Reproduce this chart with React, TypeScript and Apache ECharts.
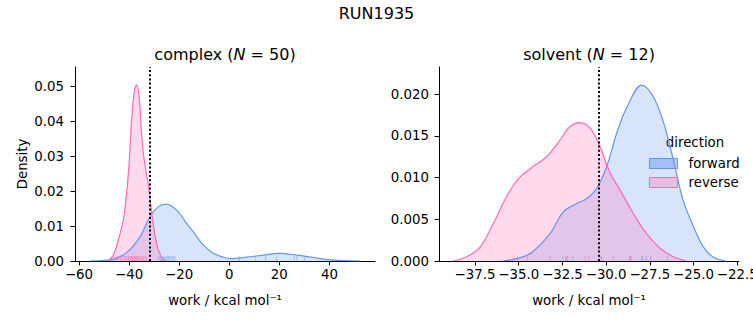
import { useEffect, useRef } from "react";
import * as echarts from "echarts";

const suptitle = "RUN1935";
const panelNames = ["complex", "solvent"];
const panelN = [50, 12];
const directions = ["forward", "reverse"];
const xAxisTitle = "work / kcal mol⁻¹";
const yAxisTitle = "Density";
const legendTitle = "direction";

// complex panel KDE curves
const complexForwardX = [-55.6, -47.6, -41.0, -35.6, -31.7, -28.3, -25.3, -21.0, -17.0, -14.4, -10.4, -6.4, -2.4, 0.3, 6.9, 13.6, 20.2, 26.9, 33.5, 40.2, 46.0, 52.2];
const complexForwardY = [0.0, 0.0003, 0.0024, 0.007, 0.0127, 0.0156, 0.0163, 0.0146, 0.0108, 0.0084, 0.0046, 0.0022, 0.0011, 0.0007, 0.0011, 0.0017, 0.0022, 0.0017, 0.001, 0.0003, 0.0001, 0.0];
const complexReverseX = [-48.3, -46.3, -44.3, -42.3, -41.0, -39.9, -39.0, -38.0, -37.0, -36.0, -35.2, -34.3, -33.3, -32.2, -31.1, -29.8, -28.3, -26.3, -25.0];
const complexReverseY = [0.0, 0.0017, 0.006, 0.0118, 0.0194, 0.029, 0.0404, 0.0481, 0.0505, 0.0471, 0.0385, 0.0309, 0.0261, 0.0213, 0.0146, 0.0079, 0.0032, 0.0003, 0.0];

// solvent panel KDE curves
const solventForwardX = [-35.9, -34.9, -34.2, -33.2, -32.45, -31.68, -31.1, -30.54, -29.97, -29.4, -28.8, -27.96, -27.3, -26.7, -26.15, -25.6, -25.0, -24.44, -23.9, -23.2];
const solventForwardY = [0.0, 0.0004, 0.0011, 0.0033, 0.0059, 0.0069, 0.0075, 0.0087, 0.0113, 0.0153, 0.0185, 0.0211, 0.0197, 0.0165, 0.0121, 0.0073, 0.0041, 0.0017, 0.0005, 0.0];
const solventReverseX = [-38.74, -37.98, -37.2, -36.45, -35.7, -35.0, -34.2, -33.4, -32.64, -32.07, -31.5, -30.9, -30.35, -29.8, -29.2, -28.44, -27.7, -26.9, -26.15, -25.4];
const solventReverseY = [0.0, 0.0005, 0.0017, 0.0045, 0.0077, 0.0099, 0.0113, 0.0125, 0.0145, 0.0161, 0.0166, 0.0159, 0.0137, 0.0107, 0.0085, 0.0057, 0.0033, 0.0015, 0.0005, 0.0];

// rug samples
const complexForwardRug = [-28.3, -27.6, -27.0, -26.4, -25.9, -25.3, -24.8, -24.3, -23.7, -23.0, -22.4, -21.7, 4.0, 10.5, 14.5, 19.0, 26.0, 27.0, 30.0];
const complexReverseRug = [-46.2, -45.1, -44.3, -43.5, -42.8, -42.0, -41.4, -40.9, -40.3, -39.8, -39.3, -38.9, -38.5, -38.1, -37.7, -37.4, -37.0, -36.7, -36.3, -35.9, -35.4, -34.8, -34.2, -33.6, -32.9];
const solventForwardRug = [-32.48, -32.25, -31.9, -30.25, -29.6, -28.67, -28.58, -27.96, -27.9, -27.7, -27.45, -26.5];
const solventReverseRug = [-35.06, -34.5, -33.2, -32.3, -32.2, -31.2, -31.0, -30.35, -28.6];

// vertical dotted reference lines
const referenceLines = [-31.66, -30.45];

// axes
const complexXTicks = [-60, -40, -20, 0, 20, 40];
const complexYTicks = [0, 0.01, 0.02, 0.03, 0.04, 0.05];
const solventXTicks = [-37.5, -35, -32.5, -30, -27.5, -25, -22.5];
const solventYTicks = [0, 0.005, 0.01, 0.015, 0.02];
const xRanges = [[-61.6, 58.2], [-39.56, -22.4]];
const yRanges = [[0, 0.05563], [0, 0.02327]];

const FONT = "DejaVu Sans";
const BLUE = "#6495ED";
const PINK = "#FF69B4";

const fmt = (d: number) => (v: number) => v.toFixed(d).replace("-", "\u2212");

export default function App() {
  const ref = useRef<HTMLDivElement>(null);
  useEffect(() => {
    if (!ref.current) return;
    const chart = echarts.init(ref.current, null, { renderer: "svg" });
    const grids = [
      { left: 75, top: 67, width: 300, height: 194, containLabel: false, outerBoundsMode: "none" },
      { left: 439, top: 67, width: 300, height: 194, containLabel: false, outerBoundsMode: "none" },
    ];
    const xTicks = [complexXTicks, solventXTicks];
    const yTicks = [complexYTicks, solventYTicks];
    const xDec = [0, 1];
    const yDec = [2, 3];
    const yMargin = [11, 10];
    const axisCommon = {
      axisLine: { show: true, onZero: false, lineStyle: { color: "#000", width: 1 } },
      splitLine: { show: false },
    };
    const xAxis = [0, 1].map((i) => ({
      type: "value",
      gridIndex: i,
      min: xRanges[i][0],
      max: xRanges[i][1],
      ...axisCommon,
      axisTick: { show: true, length: 4.5, customValues: xTicks[i], lineStyle: { color: "#000" } },
      axisLabel: { customValues: xTicks[i], formatter: fmt(xDec[i]), fontSize: 13.33, color: "#000", fontFamily: FONT, margin: 7, hideOverlap: false },
    }));
    const yAxis = [0, 1].map((i) => ({
      type: "value",
      gridIndex: i,
      min: yRanges[i][0],
      max: yRanges[i][1],
      ...axisCommon,
      axisTick: { show: true, length: 4.5, customValues: yTicks[i], lineStyle: { color: "#000" } },
      axisLabel: { customValues: yTicks[i], formatter: fmt(yDec[i]), fontSize: 13.33, color: "#000", fontFamily: FONT, margin: yMargin[i] },
    }));

    const kde = (name: string, xs: number[], ys: number[], color: string, fill: string, idx: number, extra: any = {}) => ({
      type: "line",
      name,
      xAxisIndex: idx,
      yAxisIndex: idx,
      data: xs.map((x, k) => [x, ys[k]]),
      smooth: 0.35,
      showSymbol: false,
      symbol: "none",
      lineStyle: { color, width: 1.2 },
      itemStyle: { color },
      areaStyle: { color: fill, opacity: 1 },
      silent: true,
      ...extra,
    });
    const rug = (name: string, xs: number[], color: string, idx: number) => ({
      type: "scatter",
      name,
      xAxisIndex: idx,
      yAxisIndex: idx,
      data: xs.map((x) => [x, 0]),
      symbol: "rect",
      symbolSize: [1, 5],
      symbolOffset: [0, -2.5],
      itemStyle: { color },
      silent: true,
      z: 4,
    });
    const dotted = (x: number) => ({
      silent: true,
      symbol: ["none", "none"],
      label: { show: false },
      lineStyle: { color: "#000", type: [2, 2.2], width: 2 },
      data: [{ xAxis: x }],
    });
    const blueFill = "rgba(100,149,237,0.25)";
    const pinkFill = "rgba(255,105,180,0.25)";

    const series = [
      kde(directions[0], complexForwardX, complexForwardY, BLUE, blueFill, 0),
      kde(directions[1], complexReverseX, complexReverseY, PINK, pinkFill, 0, { markLine: dotted(referenceLines[0]) }),
      kde(directions[0], solventForwardX, solventForwardY, BLUE, blueFill, 1),
      kde(directions[1], solventReverseX, solventReverseY, PINK, pinkFill, 1, { markLine: dotted(referenceLines[1]) }),
      rug("rug-f0", complexForwardRug, "rgba(100,149,237,0.6)", 0),
      rug("rug-r0", complexReverseRug, "rgba(255,105,180,0.65)", 0),
      rug("rug-f1", solventForwardRug, "rgba(100,149,237,0.6)", 1),
      rug("rug-r1", solventReverseRug, "rgba(255,105,180,0.65)", 1),
    ];

    const panelTitle = (i: number, cx: number) => ({
      type: "text",
      x: cx,
      y: 54,
      style: {
        text: `{a|${panelNames[i]} (}{i|N}{a| = ${panelN[i]})}`,
        rich: {
          a: { fontSize: 16, fontFamily: FONT, fill: "#000" },
          i: { fontSize: 16, fontFamily: FONT, fontStyle: "italic", fill: "#000" },
        },
        align: "center",
        verticalAlign: "middle",
      },
    });
    const axisTitle = (cx: number) => ({
      type: "text",
      x: cx,
      y: 300,
      style: { text: xAxisTitle, fontSize: 13.33, fontFamily: FONT, fill: "#000", align: "center", verticalAlign: "middle" },
    });

    chart.setOption({
      animation: false,
      textStyle: { fontFamily: FONT },
      grid: grids,
      xAxis,
      yAxis,
      series,
      legend: {
        data: [
          { name: directions[0], itemStyle: { color: "rgba(100,149,237,0.45)", borderColor: BLUE, borderWidth: 1 } },
          { name: directions[1], itemStyle: { color: "rgba(255,105,180,0.3)", borderColor: PINK, borderWidth: 1 } },
        ],
        orient: "vertical",
        left: 649,
        top: 157,
        padding: 0,
        icon: "rect",
        itemWidth: 28,
        itemHeight: 10,
        itemGap: 6,
        selectedMode: false,
        textStyle: { fontSize: 13.33, color: "#000", fontFamily: FONT, padding: [0, 0, 0, 6] },
      },
      graphic: [
        { type: "text", x: 376.5, y: 13, style: { text: suptitle, fontSize: 16, fontFamily: FONT, fill: "#000", align: "center", verticalAlign: "middle" } },
        panelTitle(0, 225),
        panelTitle(1, 589),
        axisTitle(225),
        axisTitle(589),
        { type: "text", x: 22, y: 164, rotation: Math.PI / 2, style: { text: yAxisTitle, fontSize: 13.33, fontFamily: FONT, fill: "#000", align: "center", verticalAlign: "middle" } },
        { type: "text", x: 695, y: 142, style: { text: legendTitle, fontSize: 13.33, fontFamily: FONT, fill: "#000", align: "center", verticalAlign: "middle" } },
      ],
    });
    return () => chart.dispose();
  }, []);
  return <div ref={ref} style={{ position: "fixed", left: 0, top: 0, width: 753, height: 325, background: "#fff" }} />;
}
